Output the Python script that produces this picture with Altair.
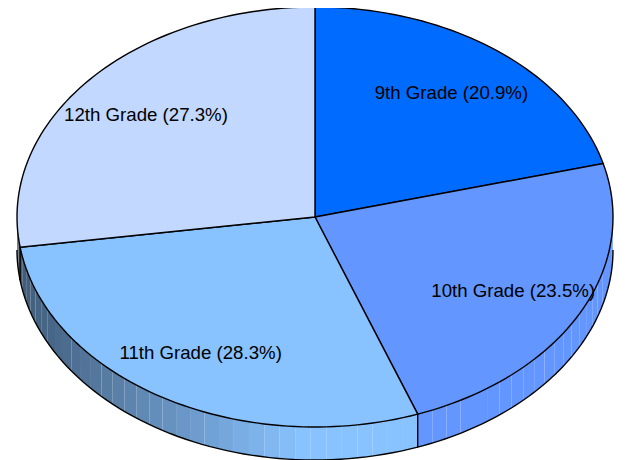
import math
import altair as alt
import pandas as pd

grades = ["9th Grade", "10th Grade", "11th Grade", "12th Grade"]
shares = [20.9, 23.5, 28.3, 27.3]
fills = ["#006BFF", "#6396FF", "#88C2FF", "#C2D8FF"]

DEPTH = 33 / 210
STEP = 3.0


def shade(hex_color, f):
    rgb = [int(hex_color[i:i + 2], 16) for i in (1, 3, 5)]
    return "#%02x%02x%02x" % tuple(int(round(c * f)) for c in rgb)


def pt(deg):
    t = math.radians(deg)
    return math.sin(t), math.cos(t)


def factor(deg):
    s = math.sin(math.radians(deg))
    if deg < 180 or s >= -0.05:
        return 1.0
    return max(0.42, 1.0 + 0.56 * (s + 0.05))


total = sum(shares)
edges = [0.0]
for s in shares:
    edges.append(edges[-1] + s / total * 360)

tops, walls, rims, labels = [], [], [], []
for k, g in enumerate(grades):
    a0, a1 = edges[k], edges[k + 1]
    mid = (a0 + a1) / 2
    mx, my = pt(mid)
    labels.append({"u": 0.75 * mx, "v": 0.75 * my, "text": f"{g} ({shares[k]}%)"})
    n = max(2, int(round((a1 - a0) / 1.5)))
    poly = [(0.0, 0.0)] + [pt(a0 + (a1 - a0) * i / n) for i in range(n + 1)] + [(0.0, 0.0)]
    for i, (u, v) in enumerate(poly):
        tops.append({"id": g, "i": i, "u": u, "v": v, "c": fills[k]})

    v0, v1 = max(a0, 90.0), min(a1, 270.0)
    if v1 <= v0:
        continue
    m = max(1, int(round((a1 - a0) / STEP)))
    for j in range(m):
        b0 = a0 + (a1 - a0) * j / m
        b1 = a0 + (a1 - a0) * (j + 1) / m
        if b1 <= v0 or b0 >= v1:
            continue
        b0, b1 = max(b0, v0), min(b1, v1)
        (x0, y0), (x1, y1) = pt(b0), pt(b1)
        col = shade(fills[k], factor((b0 + b1) / 2))
        quad = [(x0, y0), (x1, y1), (x1, y1 - DEPTH), (x0, y0 - DEPTH), (x0, y0)]
        for i, (u, v) in enumerate(quad):
            walls.append({"id": f"{g}-{j}", "i": i, "u": u, "v": v, "c": col})
    # outline of the wall: lower arc and the vertical edge at the slice's end
    arc = [(v0 + (v1 - v0) * i / 60) for i in range(61)]
    seq = [(pt(d)[0], pt(d)[1] - DEPTH) for d in arc]
    if v1 < 270.0:
        seq.append(pt(v1))
    for i, (u, v) in enumerate(seq):
        rims.append({"id": g, "i": i, "u": u, "v": v})

x = alt.X("u:Q", axis=None, scale=alt.Scale(domain=[-1, 1], range=[9, 605]))
y = alt.Y("v:Q", axis=None, scale=alt.Scale(domain=[-1, 1], range=[419, -1]))

wall_layer = alt.Chart(pd.DataFrame(walls)).mark_line(strokeOpacity=0).encode(
    x=x, y=y, detail="id:N", order="i:Q", fill=alt.Fill("c:N", scale=None)
)
rim_layer = alt.Chart(pd.DataFrame(rims)).mark_line(color="black", strokeWidth=1.4).encode(
    x=x, y=y, detail="id:N", order="i:Q"
)
top_layer = alt.Chart(pd.DataFrame(tops)).mark_line(stroke="black", strokeWidth=1.4).encode(
    x=x, y=y, detail="id:N", order="i:Q", fill=alt.Fill("c:N", scale=None)
)
text_layer = alt.Chart(pd.DataFrame(labels)).mark_text(
    font="Liberation Sans", fontSize=18.67, color="black", align="center", baseline="middle", dy=1
).encode(x=x, y=y, text="text:N")

chart = (
    alt.layer(wall_layer, rim_layer, top_layer, text_layer)
    .properties(width=612, height=452, padding=0,
                autosize=alt.AutoSizeParams(type="none"))
    .configure_view(stroke=None)
)
chart.save("out.html", embed_options={"renderer": "svg", "actions": False})
